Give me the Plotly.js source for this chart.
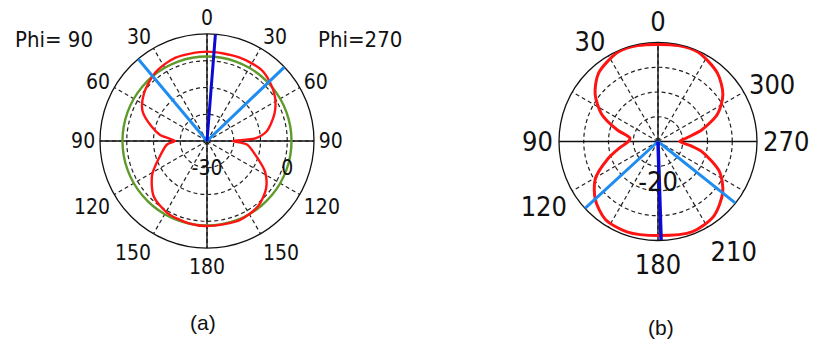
<!DOCTYPE html>
<html>
<head>
<meta charset="utf-8">
<script src="https://cdn.plot.ly/plotly-3.0.1.min.js"></script>
<style>html,body{margin:0;padding:0;background:#fff;}#chart{width:824px;height:340px;}</style>
</head>
<body>
<div id="chart"></div>
<script>
// ---------- data: panel (a), Phi cut, angle clockwise from top (deg), gain (dB) ----------
const thetaA = [0,21,37,47,57,68,81,87,90,95,106,118,129,142,158,180,193,209,224,238,250,265,270,277,284,295,307,323,339,360];
const redA   = [3.4,3.5,3.5,2.2,0.3,-2.8,-7.5,-11.9,-20.4,-15,-11.2,-5.4,-1.6,1.0,2.0,1.8,1.5,0.7,-1.3,-5.8,-10.8,-15,-18,-12.5,-8.9,-3.4,-0.5,2.1,3.3,3.4];
const thetaGreenA = [0,10,20,30,40,50,60,70,80,90,100,110,120,130,140,150,160,170,180,190,200,210,220,230,240,250,260,270,280,290,300,310,320,330,340,350,360];
const greenA = [1.6,1.6,1.6,1.6,1.6,1.6,1.6,1.6,1.6,1.6,1.6,1.6,1.6,1.6,1.6,1.6,1.6,1.6,1.6,1.6,1.6,1.6,1.6,1.6,1.6,1.6,1.6,1.6,1.6,1.6,1.6,1.6,1.6,1.6,1.6,1.6,1.6];
const beamEdgesA = [320, 46.3];
const mainBeamA = 4.5;
const rangeA = [-30, 10];
const radialGridA = [-20, -10, 0];
const radialLabelValsA = [-30, 0];
const radialLabelTextA = ['-30', '0'];
const angTicks = [0,30,60,90,120,150,180,210,240,270,300,330];
const angTextA = ['0','30','60','90','120','150','180','150','120','90','60','30'];

// ---------- data: panel (b), angle counter-clockwise from top (deg), gain (dB) ----------
const thetaB = [0,12,24,41,53,64,74,83,90,100,109,121,133,146,161,180,201,217,232,244,257,263,270,277,285,295,306,319,336,348,360];
const redB   = [-0.4,-0.2,-0.2,-1.7,-4.1,-7.3,-11.4,-14.3,-14.0,-12,-9.3,-5.2,-2.7,-1.0,-0.7,-1.0,-0.5,-1.2,-3.4,-6.2,-10.9,-13.5,-15.6,-14.2,-10.8,-6.7,-3.8,-1.7,-0.2,-0.2,-0.4];
const beamEdgesB = [132.5, 231.5];
const mainBeamB = 181.8;
const rangeB = [-20, 0];
const radialGridB = [-15, -10, -5];
const radialLabelValsB = [-20];
const radialLabelTextB = ['-20'];
const angTextB = ['0','30','','90','120','','180','210','','270','300',''];

// ---------- styling ----------
const FONT = 'DejaVu Sans Condensed, DejaVu Sans, sans-serif';
const RED = '#ff1414', GREEN = '#5f9a2a', LBLUE = '#1e8cf0', DBLUE = '#0a0ad2';
const DASH = '4px,3px';
const CLEAR = 'rgba(0,0,0,0)';
const domA = {x:[(207-107)/824,(207+107)/824], y:[(199-107)/340,(199+107)/340]};
const domB = {x:[(658-99)/824,(658+99)/824], y:[(198.5-99)/340,(198.5+99)/340]};

function lineTrace(sub, theta, r, color, width, shape) {
  return {type:'scatterpolar', mode:'lines', subplot:sub, theta:theta, r:r,
          line:{color:color, width:width, shape:shape||'linear', smoothing:0.8},
          hoverinfo:'skip', cliponaxis:false};
}

const traces = [];
// empty traces so that the background (grid) subplots get drawn
traces.push({type:'scatterpolar', mode:'lines', subplot:'polar', r:[], theta:[], hoverinfo:'skip'});
traces.push({type:'scatterpolar', mode:'lines', subplot:'polar3', r:[], theta:[], hoverinfo:'skip'});
// panel (a)
traces.push(lineTrace('polar2', thetaGreenA, greenA, GREEN, 2.4, 'spline'));
traces.push(lineTrace('polar2', thetaA, redA, RED, 2.4, 'spline'));
beamEdgesA.forEach(a => traces.push(lineTrace('polar2', [a, a], rangeA, LBLUE, 3)));
traces.push(lineTrace('polar2', [mainBeamA, mainBeamA], rangeA, DBLUE, 3));
// panel (b)
traces.push(lineTrace('polar4', thetaB, redB, RED, 3, 'spline'));
beamEdgesB.forEach(a => traces.push(lineTrace('polar4', [a, a], rangeB, LBLUE, 3)));
traces.push(lineTrace('polar4', [mainBeamB, mainBeamB], rangeB, DBLUE, 3.5));

function basePolar(dom, range, grid, dir, angText, fsize) {
  return {
    domain: dom, bgcolor: '#fff',
    radialaxis: {range: range, tickvals: grid, showticklabels: false, showline: false, ticks: '',
                 gridcolor: '#222', griddash: DASH, gridwidth: 1.2},
    angularaxis: {rotation: 90, direction: dir, tickvals: angTicks, ticktext: angText,
                  showline: true, linecolor: '#111', linewidth: 1.3,
                  gridcolor: '#222', griddash: DASH, gridwidth: 1.2,
                  ticks: '',
                  tickfont: {family: FONT, size: fsize, color: '#111'}}
  };
}
function topPolar(dom, range, dir, labVals, labText, fsize, offs) {
  return {
    domain: dom, bgcolor: CLEAR,
    radialaxis: {range: range, tickvals: labVals, ticktext: labText, showgrid: false, showline: false,
                 angle: 0, ticks: 'outside', ticklen: offs, tickcolor: CLEAR,
                 tickfont: {family: FONT, size: fsize, color: '#111'}},
    angularaxis: {rotation: 90, direction: dir, tickvals: [0, 90, 180, 270], showticklabels: false,
                  showline: false, ticks: '', gridcolor: '#111', gridwidth: 1.4}
  };
}

const layout = {
  width: 824, height: 340,
  margin: {l:0, r:0, t:0, b:0},
  paper_bgcolor: '#fff',
  showlegend: false,
  font: {family: FONT, color: '#111'},
  polar:  basePolar(domA, rangeA, radialGridA, 'clockwise', angTextA, 21),
  polar2: topPolar(domA, rangeA, 'clockwise', radialLabelValsA, radialLabelTextA, 21, 8),
  polar3: basePolar(domB, rangeB, radialGridB, 'counterclockwise', angTextB, 27),
  polar4: topPolar(domB, rangeB, 'counterclockwise', radialLabelValsB, radialLabelTextB, 27, 17),
  annotations: [
    {text:'Phi= 90', x:53.5/824, y:1-39.5/340, xref:'paper', yref:'paper', showarrow:false,
     xanchor:'center', yanchor:'middle', font:{family:FONT, size:22, color:'#111'}},
    {text:'Phi=270', x:360/824, y:1-39.5/340, xref:'paper', yref:'paper', showarrow:false,
     xanchor:'center', yanchor:'middle', font:{family:FONT, size:22, color:'#111'}},
    {text:'(a)', x:203/824, y:1-322/340, xref:'paper', yref:'paper', showarrow:false,
     xanchor:'center', yanchor:'middle', font:{family:'Liberation Sans, Arial, sans-serif', size:21, color:'#111'}},
    {text:'(b)', x:661/824, y:1-327/340, xref:'paper', yref:'paper', showarrow:false,
     xanchor:'center', yanchor:'middle', font:{family:'Liberation Sans, Arial, sans-serif', size:21, color:'#111'}}
  ]
};

Plotly.newPlot('chart', traces, layout, {staticPlot: true, displayModeBar: false});
</script>
</body>
</html>
